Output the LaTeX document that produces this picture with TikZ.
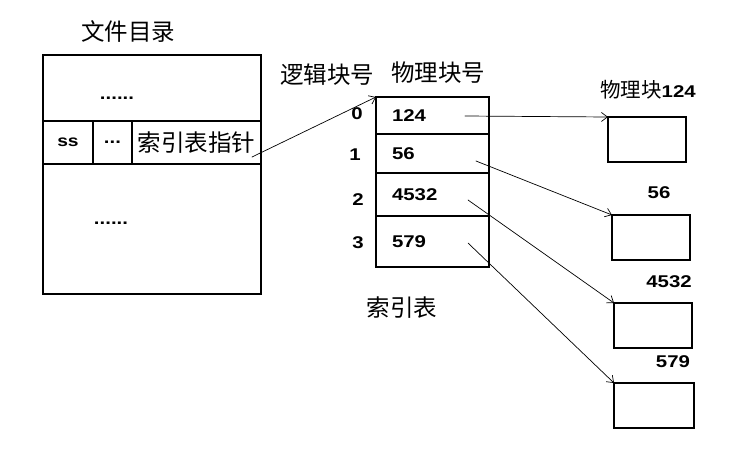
\documentclass[tikz,border=0pt]{standalone}
\usepackage{fontspec}
\newfontfamily\cjk{Noto Sans CJK SC}
\newfontfamily\numf[FakeStretch=1.2]{Liberation Sans}
\usetikzlibrary{arrows.meta,calc,positioning}

\begin{document}
\begin{tikzpicture}[
  x=1pt, y=-1pt,
  line cap=round,
  zh/.style={inner sep=0pt, font=\cjk\fontsize{23.5}{26}\selectfont},
  nb/.style={inner sep=0pt, font=\numf\bfseries\fontsize{17}{20}\selectfont},
  cell/.style={rectangle, draw, line width=1.2pt, inner sep=0pt, outer sep=0pt},
  idx/.style={cell, minimum width=113pt, text width=81pt, align=left, inner xsep=16pt,
    font=\numf\bfseries\fontsize{17}{20}\selectfont},
  blk/.style={cell, minimum width=78pt, minimum height=45pt},
  link/.style={-{Straight Barb[length=6pt, width=9pt]}, line width=0.7pt},
]
  \useasboundingbox (0,0) rectangle (755,474);
  % File directory (left)
  \node[zh] (dirtitle) at (128,32) {文件目录};
  \node[cell, minimum width=218pt, minimum height=66pt] (dtop) at (152,88) {};
  \node[cell, anchor=north west, minimum width=50pt, minimum height=43pt] (ss) at (dtop.south west)
    {\numf\bfseries\fontsize{16}{18}\selectfont ss};
  \node[cell, right=0pt of ss, minimum width=39pt, minimum height=43pt] (etc)
    {\numf\bfseries\fontsize{17}{18}\selectfont ...};
  \node[cell, right=0pt of etc, minimum width=129pt, minimum height=43pt, font=\cjk\fontsize{23.5}{26}\selectfont] (ptr)
    {索引表指针};
  \node[cell, anchor=north, minimum width=218pt, minimum height=130pt] (dbot) at ($(dtop.south)+(0,43)$) {};
  \node[nb] (dots1) at (117,98) {......};
  \node[nb] (dots2) at (111,223) {......};
  % Index table (middle)
  \node[zh] (lognum) at (327,75) {逻辑块号};
  \node[zh] (phynum) at (438,73) {物理块号};
  \node[idx, minimum height=37pt] (r0) at (432.5,115.5) {124};
  \node[idx, below=0pt of r0, minimum height=39pt] (r1) {56};
  \node[idx, below=0pt of r1, minimum height=43pt] (r2) {4532};
  \node[idx, below=0pt of r2, minimum height=51pt] (r3) {579};
  \node[nb] (l0) at (357,114) {0};
  \node[nb] (l1) at (355,155) {1};
  \node[nb] (l2) at (358,200) {2};
  \node[nb] (l3) at (358,243) {3};
  \node[zh] (idxtitle) at (402,308) {索引表};
  % Physical blocks (right)
  \node[blk, anchor=north west] (b1) at (608,117) {};
  \node[blk, anchor=north west] (b2) at (612,215) {};
  \node[blk, anchor=north west] (b3) at (614,303) {};
  \node[blk, anchor=north west, minimum width=80pt] (b4) at (614,383) {};
  \node[inner sep=0pt] (b1lab) at (648,90)
    {{\cjk\fontsize{20.5}{22}\selectfont 物理块}{\numf\bfseries\fontsize{17}{20}\selectfont 124}};
  \node[nb] (b2lab) at (659,193) {56};
  \node[nb] (b3lab) at (669,282) {4532};
  \node[nb] (b4lab) at (673,362) {579};
  % Arrows
  \coordinate (pt) at ($(ptr.south east)+(-9,-7)$);
  \coordinate (p0) at ($(r0.east)+(-24,0.5)$);
  \coordinate (p1) at ($(r1.east)+(-13,7.5)$);
  \coordinate (p2) at ($(r2.east)+(-21,5.5)$);
  \coordinate (p3) at ($(r3.east)+(-21,1.5)$);
  \draw[link] (pt) -- (r0.north west);
  \draw[link] (p0) -- (b1.north west);
  \draw[link] (p1) -- (b2.north west);
  \draw[link] (p2) -- (b3.north west);
  \draw[link] (p3) -- (b4.north west);
\end{tikzpicture}
\end{document}
